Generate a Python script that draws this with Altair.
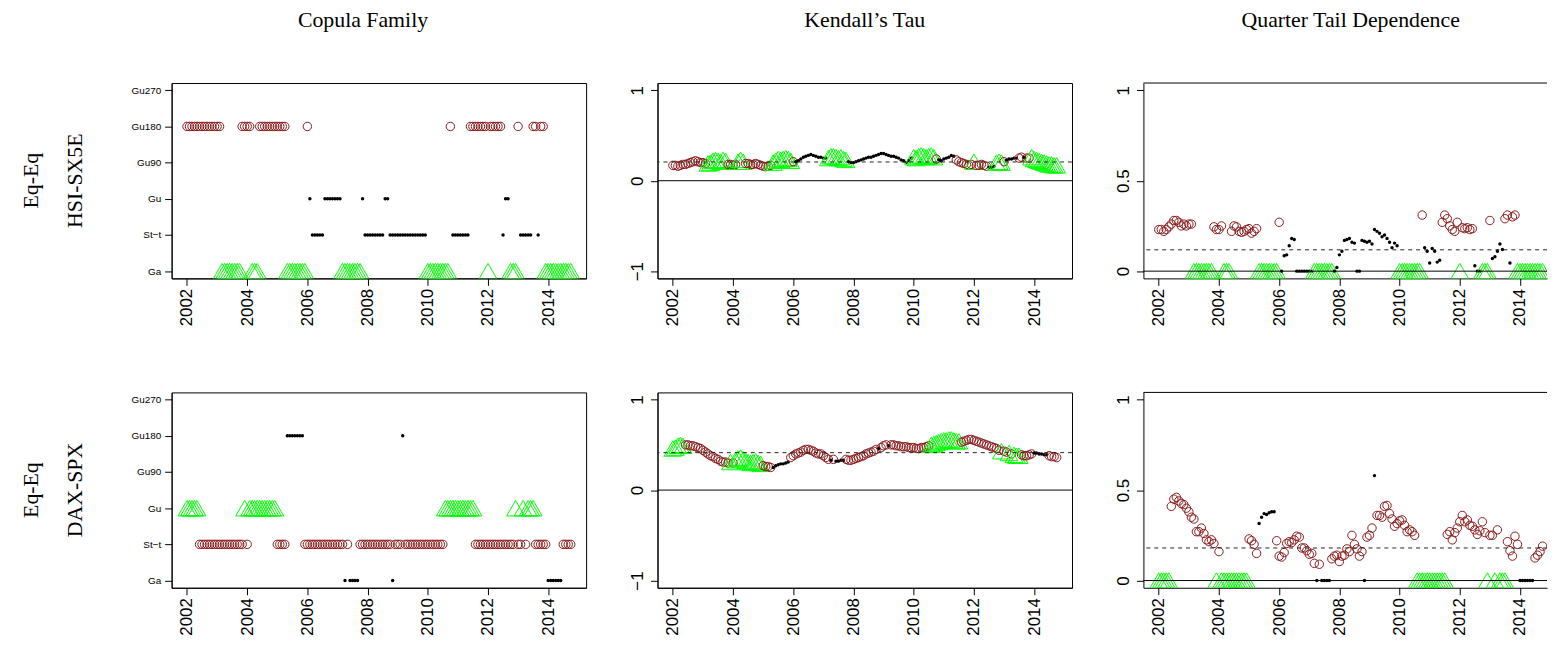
import altair as alt
import pandas as pd

# ---------------- data (monthly observations, Jan 2002 .. Oct 2014) ----------------
# family codes: A=Ga, T=St-t, G=Gu, N=Gu90, R=Gu180, W=Gu270
family_hsi = ("RRRRRRRRRRRR" "RRAAAAAAAARR" "RRAAARRRRRRR" "RRRRAAAAAAAA"
              "RGTTTTTGGGGG" "GGAAAAAAAAGT" "TTTTTTTGGTTT" "TTTTTTTTTTTT"
              "AAAAAAAAARTT" "TTTTTRRRRRRR" "ARRRRRTGGAAA" "RTTTTTRRTRRA"
              "AAAAAAAAAA")
family_dax = ("GGGGGTTTTTTT" "TTTTTTTTTTTG" "TGGGGGGGGGGG" "TTTTRRRRRRRT"
              "TTTTTTTTTTTT" "TTTATAAAATTT" "TTTTTTTTTTAT" "TTRTTTTTTTTT"
              "TTTTTTTGGGGG" "GGGGGGGTTTTT" "TTTTTTTTTTTG" "TTGTGGGTTTTT"
              "AAAAAATTTT")

tau_hsi = [
    0.17, 0.17, 0.16, 0.17, 0.18, 0.18, 0.19, 0.20, 0.21, 0.22, 0.21, 0.20,
    0.20, 0.19, 0.19, 0.20, 0.22, 0.23, 0.22, 0.21, 0.23, 0.22, 0.18, 0.18,
    0.17, 0.18, 0.21, 0.23, 0.21, 0.19, 0.19, 0.18, 0.18, 0.19, 0.18, 0.17,
    0.16, 0.155, 0.16, 0.17, 0.20, 0.22, 0.24, 0.23, 0.24, 0.25, 0.24, 0.22,
    0.21, 0.21, 0.22, 0.24, 0.26, 0.27, 0.28, 0.29, 0.28, 0.27, 0.26, 0.26,
    0.25, 0.25, 0.25, 0.27, 0.27, 0.26, 0.25, 0.26, 0.24, 0.23, 0.21, 0.20,
    0.20, 0.21, 0.22, 0.23, 0.24, 0.25, 0.26, 0.26, 0.27, 0.28, 0.29, 0.30,
    0.30, 0.29, 0.28, 0.27, 0.27, 0.26, 0.25, 0.23, 0.22, 0.20, 0.22, 0.25,
    0.26, 0.25, 0.27, 0.28, 0.27, 0.26, 0.27, 0.28, 0.26, 0.24, 0.23, 0.22,
    0.24, 0.25, 0.26, 0.28, 0.27, 0.23, 0.21, 0.20, 0.19, 0.18, 0.17, 0.18,
    0.21, 0.17, 0.17, 0.18, 0.17, 0.16, 0.15, 0.15, 0.16, 0.20, 0.21, 0.20,
    0.21, 0.23, 0.24, 0.24, 0.25, 0.25, 0.25, 0.26, 0.26, 0.25, 0.25, 0.26,
    0.24, 0.23, 0.22, 0.21, 0.20, 0.19, 0.18, 0.18, 0.17, 0.17,
]
tail_hsi = [
    0.23, 0.23, 0.22, 0.23, 0.245, 0.26, 0.28, 0.28, 0.27, 0.25, 0.26, 0.25,
    0.26, 0.26, 0, 0, 0, 0, 0, 0, 0, 0, 0.245, 0.23,
    0.23, 0.25, 0, 0, 0, 0.22, 0.25, 0.245, 0.22, 0.215, 0.22, 0.23,
    0.235, 0.21, 0.22, 0.235, 0, 0, 0, 0, 0, 0, 0, 0,
    0.27, 0, 0.085, 0.09, 0.14, 0.18, 0.175, 0, 0, 0, 0, 0,
    0, 0, 0, 0, 0, 0, 0, 0, 0, 0, 0, 0.02,
    0.09, 0.11, 0.17, 0.175, 0.18, 0.16, 0.155, 0, 0, 0.17, 0.165, 0.16,
    0.165, 0.15, 0.23, 0.22, 0.21, 0.19, 0.20, 0.18, 0.16, 0.13, 0.155, 0.14,
    0, 0, 0, 0, 0, 0, 0, 0, 0, 0.31, 0.13, 0.11,
    0.045, 0.125, 0.11, 0.05, 0.06, 0.27, 0.31, 0.29, 0.25, 0.23, 0.22, 0.27,
    0, 0.24, 0.235, 0.24, 0.23, 0.235, 0.03, 0, 0, 0, 0, 0,
    0.28, 0.07, 0.08, 0.11, 0.15, 0.12, 0.29, 0.31, 0.045, 0.30, 0.31, 0,
    0, 0, 0, 0, 0, 0, 0, 0, 0, 0,
]
tau_dax = [
    0.46, 0.47, 0.49, 0.50, 0.49, 0.50, 0.50, 0.49, 0.49, 0.48, 0.47, 0.46,
    0.44, 0.42, 0.40, 0.38, 0.37, 0.35, 0.34, 0.32, 0.31, 0.31, 0.30, 0.31,
    0.30, 0.33, 0.35, 0.36, 0.34, 0.32, 0.31, 0.30, 0.31, 0.32, 0.30, 0.29,
    0.27, 0.26, 0.26, 0.25, 0.25, 0.27, 0.28, 0.29, 0.29, 0.30, 0.31, 0.36,
    0.38, 0.40, 0.41, 0.42, 0.44, 0.45, 0.45, 0.44, 0.43, 0.41, 0.40, 0.40,
    0.38, 0.36, 0.34, 0.33, 0.34, 0.32, 0.32, 0.33, 0.33, 0.34, 0.33, 0.33,
    0.34, 0.35, 0.36, 0.37, 0.38, 0.40, 0.41, 0.42, 0.43, 0.45, 0.46, 0.47,
    0.49, 0.50, 0.49, 0.50, 0.50, 0.49, 0.49, 0.48, 0.48, 0.48, 0.47, 0.47,
    0.47, 0.46, 0.46, 0.47, 0.47, 0.48, 0.49, 0.50, 0.51, 0.52, 0.53, 0.54,
    0.55, 0.55, 0.56, 0.56, 0.55, 0.54, 0.54, 0.53, 0.54, 0.55, 0.56, 0.56,
    0.55, 0.54, 0.53, 0.52, 0.51, 0.50, 0.49, 0.48, 0.47, 0.46, 0.44, 0.43,
    0.43, 0.42, 0.41, 0.40, 0.39, 0.38, 0.38, 0.39, 0.38, 0.38, 0.39, 0.40,
    0.41, 0.41, 0.40, 0.40, 0.39, 0.39, 0.38, 0.37, 0.37, 0.36,
]
tail_dax = [
    0, 0, 0, 0, 0, 0.41, 0.45, 0.46, 0.44, 0.425, 0.42, 0.40,
    0.38, 0.35, 0.34, 0.27, 0.27, 0.29, 0.26, 0.225, 0.215, 0.225, 0.205, 0,
    0.16, 0, 0, 0, 0, 0, 0, 0, 0, 0, 0, 0,
    0.23, 0.22, 0.20, 0.15, 0.315, 0.35, 0.37, 0.365, 0.375, 0.38, 0.38, 0.22,
    0.135, 0.13, 0.155, 0.205, 0.215, 0.21, 0.225, 0.245, 0.24, 0.18, 0.18, 0.165,
    0.145, 0.15, 0.095, 0, 0.09, 0, 0, 0, 0, 0.12, 0.135, 0.14,
    0.105, 0.135, 0.14, 0.175, 0.16, 0.25, 0.20, 0.175, 0.135, 0.16, 0, 0.24,
    0.25, 0.29, 0.58, 0.36, 0.36, 0.35, 0.41, 0.415, 0.37, 0.34, 0.30, 0.315,
    0.33, 0.335, 0.305, 0.27, 0.28, 0.27, 0.25, 0, 0, 0, 0, 0,
    0, 0, 0, 0, 0, 0, 0, 0.255, 0.27, 0.225, 0.265, 0.29,
    0.325, 0.36, 0.325, 0.335, 0.305, 0.30, 0.28, 0.255, 0.275, 0.325, 0.265, 0,
    0.25, 0.25, 0, 0.28, 0, 0, 0, 0.215, 0.165, 0.135, 0.245, 0.20,
    0, 0, 0, 0, 0, 0, 0.125, 0.14, 0.16, 0.19,
]
# overall (dashed) reference levels
tau_level_hsi, tail_level_hsi = 0.207, 0.118
tau_level_dax, tail_level_dax = 0.414, 0.18

column_titles = ["Copula Family", "Kendall\u2019s Tau", "Quarter Tail Dependence"]
row_labels = [("Eq-Eq", "HSI-SX5E"), ("Eq-Eq", "DAX-SPX")]
family_names = {"A": "Ga", "T": "St\u2212t", "G": "Gu", "N": "Gu90", "R": "Gu180", "W": "Gu270"}
family_order = ["Ga", "St\u2212t", "Gu", "Gu90", "Gu180", "Gu270"]
year_ticks = [2002, 2004, 2006, 2008, 2010, 2012, 2014]

# ---------------- styling ----------------
RED = "#8b1a1a"
GREEN = "#00ff00"
W, H = 418, 197
W3 = 407
XDOM = [2001.49, 2015.26]
XDOM3 = [2001.49, 2001.49 + (XDOM[1] - XDOM[0]) * W3 / W]
SANS = "Liberation Sans"
SERIF = "Liberation Serif"


def build_df(codes, tau, tail, circle_fam, tri_fam):
    rows = []
    for i, (c, ta, tl) in enumerate(zip(codes, tau, tail)):
        fam = family_names[c]
        if fam == circle_fam:
            shape, stroke, fill, size = "circle", RED, "transparent", 72
        elif fam == tri_fam:
            shape, stroke, fill, size = "triangle-up", GREEN, "transparent", 324
        else:
            shape, stroke, fill, size = "circle", "transparent", "black", 12
        rows.append(dict(t=2002 + i / 12, fam=family_order.index(fam) + 1, tau=ta,
                         tail=tl, shape=shape, stroke=stroke, fill=fill, size=size))
    return pd.DataFrame(rows)


df_hsi = build_df(family_hsi, tau_hsi, tail_hsi, "Gu180", "Ga")
df_dax = build_df(family_dax, tau_dax, tail_dax, "St\u2212t", "Gu")

xaxis = alt.Axis(values=year_ticks, format="d", labelAngle=-90, labelFontSize=17, labelFont=SANS,
                 labelColor="black", tickSize=7, tickColor="black", domainColor="black",
                 grid=False, title="", labelPadding=3, labelFlush=False, labelOverlap=False)


def yaxis(kind):
    common = dict(grid=False, title="", tickSize=7, tickColor="black", domainColor="black",
                  labelColor="black", labelFont=SANS, labelFlush=False, labelOverlap=False)
    if kind == "fam":
        return alt.Axis(values=[1, 2, 3, 4, 5, 6], labelFontSize=10, labelAngle=0, labelPadding=4,
                        labelExpr="['', 'Ga', 'St\u2212t', 'Gu', 'Gu90', 'Gu180', 'Gu270'][datum.value]",
                        **common)
    if kind == "tau":
        return alt.Axis(values=[-1, 0, 1], format="~g", labelFontSize=17, labelAngle=-90,
                        labelPadding=4, **common)
    return alt.Axis(values=[0, 0.5, 1], format="~g", labelFontSize=17, labelAngle=-90,
                    labelPadding=4, **common)


def panel(df, col, row):
    kind = ["fam", "tau", "tail"][col]
    ydom = {"fam": [0.8, 6.2], "tau": [-1.08, 1.08], "tail": [-0.04, 1.04]}[kind]
    width = W3 if col == 2 else W
    xdom = XDOM3 if col == 2 else XDOM
    xs = alt.Scale(domain=xdom, nice=False, zero=False)
    ys = alt.Scale(domain=ydom, nice=False, zero=False)
    pts = alt.Chart(df).mark_point(filled=True, opacity=1, strokeWidth=1, clip=True).encode(
        x=alt.X("t:Q", scale=xs, axis=xaxis),
        y=alt.Y(f"{kind}:Q", scale=ys, axis=yaxis(kind)),
        shape=alt.Shape("shape:N", scale=None),
        stroke=alt.Stroke("stroke:N", scale=None),
        fill=alt.Fill("fill:N", scale=None),
        size=alt.Size("size:Q", scale=None),
        order=alt.Order("t:Q"),
    )
    layers = [pts]
    if kind != "fam":
        lvl = [[tau_level_hsi, tail_level_hsi], [tau_level_dax, tail_level_dax]][row][col - 1]
        layers.append(alt.Chart(pd.DataFrame({"v": [0.0]})).mark_rule(
            color="black", strokeWidth=1).encode(y=alt.Y("v:Q", scale=ys, title="")))
        layers.append(alt.Chart(pd.DataFrame({"v": [lvl]})).mark_rule(
            color="#222222", strokeWidth=1, strokeDash=[4, 4]).encode(
            y=alt.Y("v:Q", scale=ys, title="")))
    if row == 0:
        cx = {0: 193, 1: W / 2, 2: 209}[col]
        layers.append(alt.Chart(pd.DataFrame({"s": [column_titles[col]]})).mark_text(
            font=SERIF, fontSize=22, align="center", baseline="middle", color="black").encode(
            text="s:N", x=alt.value(cx), y=alt.value(-63)))
    if col == 0:
        l1, l2 = row_labels[row]
        layers.append(alt.Chart(pd.DataFrame({"s": [l1]})).mark_text(
            font=SERIF, fontSize=22, align="center", baseline="middle", angle=270,
            color="black").encode(text="s:N", x=alt.value(-142), y=alt.value(H / 2)))
        layers.append(alt.Chart(pd.DataFrame({"s": [l2]})).mark_text(
            font=SERIF, fontSize=22, align="center", baseline="middle", angle=270,
            color="black").encode(text="s:N", x=alt.value(-97), y=alt.value(H / 2)))
    if col == 2:
        layers.append(alt.Chart(pd.DataFrame({"s": [0]})).mark_rule(
            color="black", strokeWidth=1).encode(
            x=alt.value(0), x2=alt.value(width), y=alt.value(0)))
    lay = alt.layer(*layers).properties(width=width, height=H)
    if col == 2:
        lay = lay.properties(view=alt.ViewBackground(stroke="transparent"))
    return lay


panels = []
for r, df in enumerate([df_hsi, df_dax]):
    for c in range(3):
        panels.append(panel(df, c, r))

chart = alt.ConcatChart(
    concat=panels, columns=3, spacing=alt.RowColnumber(row=115, column=72), bounds="flush",
).properties(
    padding={"left": 11, "top": -2, "right": 0, "bottom": 0},
    background="white",
).configure_view(stroke="black", strokeWidth=1)

chart.save("out.html", embed_options={"renderer": "svg", "actions": False})
